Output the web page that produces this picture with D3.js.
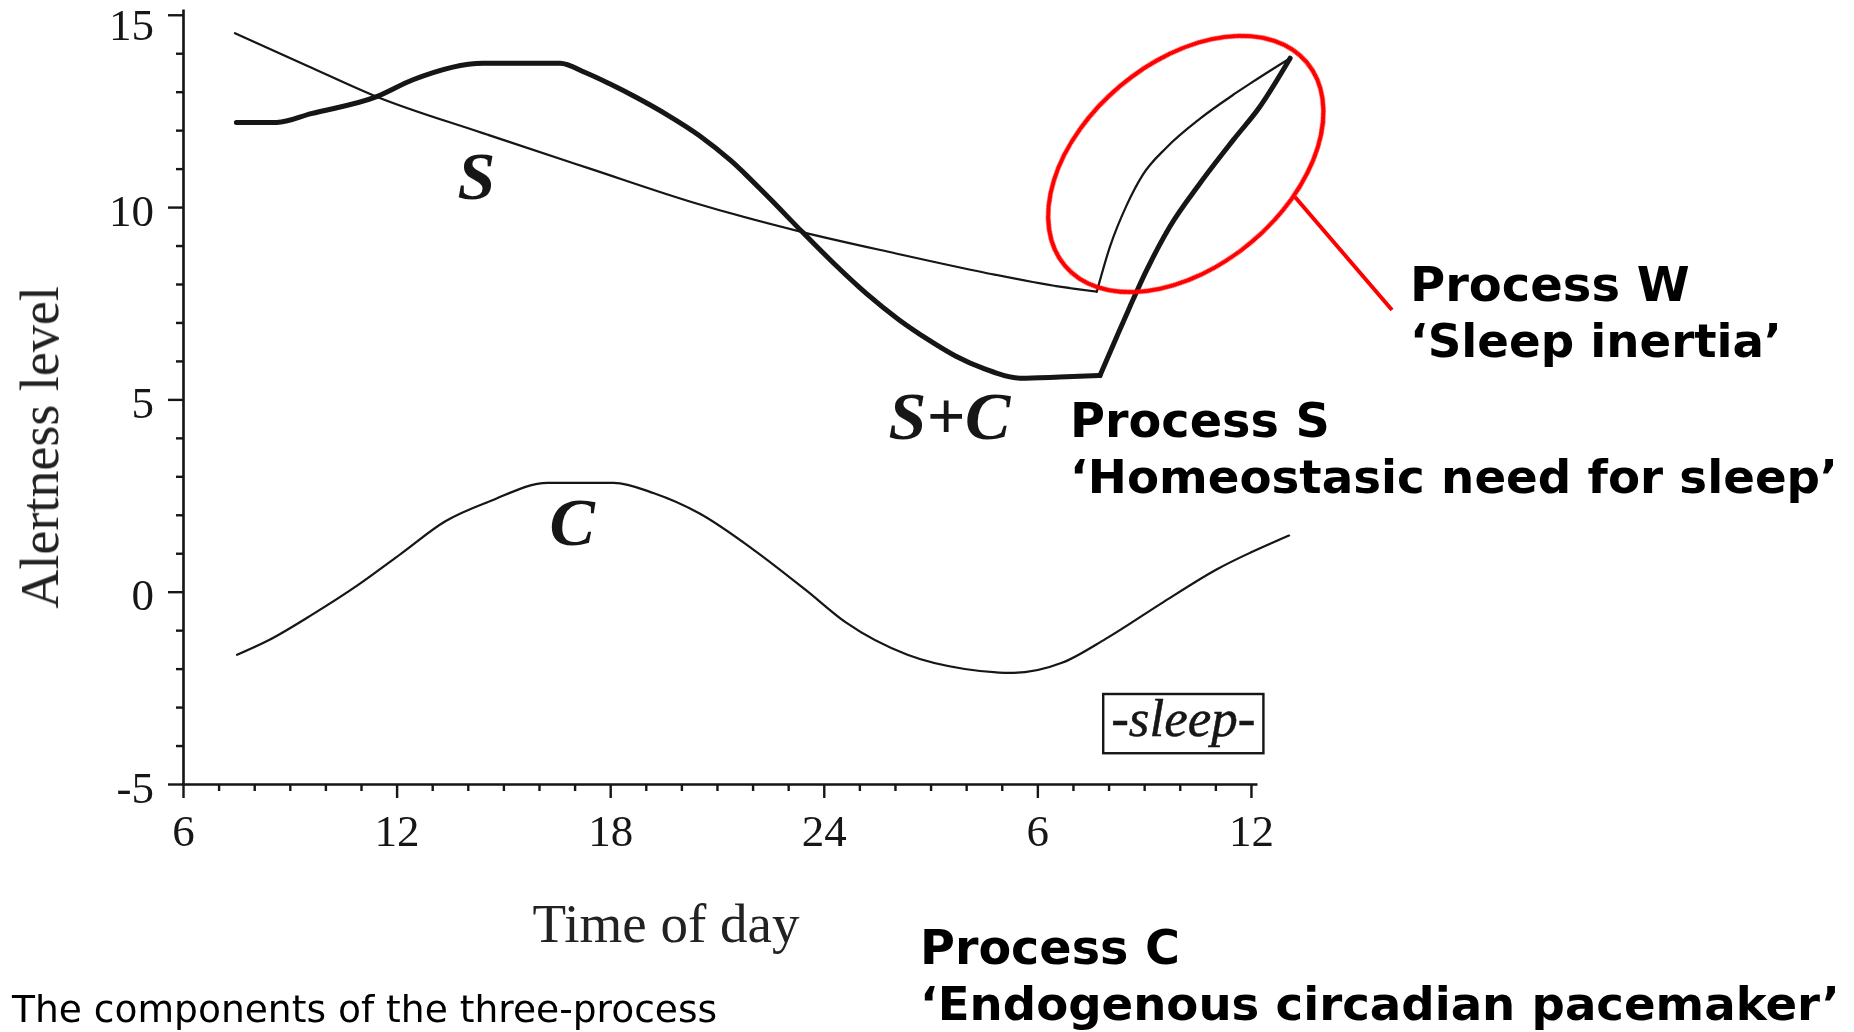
<!DOCTYPE html>
<html><head><meta charset="utf-8">
<script src="https://cdn.jsdelivr.net/npm/d3@7"></script>
<style>
html,body{margin:0;padding:0;background:#fff;overflow:hidden;}
svg{display:block;}
</style></head>
<body>
<svg id="chart" width="1854" height="1032"></svg>
<script>
// Three-process model of alertness: time of day (hours, running on past midnight) vs alertness level.

// Process S while awake: homeostatic alertness falling through the day and night
const sAwakeHours  = [7.46, 9.5, 11.44, 14.4, 17.43, 20.4, 23.4, 26.0, 28.5, 30.63, 31.67];
const sAwakeValues = [14.52, 13.67, 12.87, 11.93, 11.0, 10.1, 9.35, 8.8, 8.3, 7.93, 7.8];
// Process S recovering during sleep
const sSleepHours  = [31.67, 32.04, 32.51, 32.97, 33.63, 34.57, 35.6, 37.1];
const sSleepValues = [7.8, 8.97, 10.05, 10.85, 11.55, 12.3, 12.98, 13.87];

// S+C while awake
const scAwakeHours  = [7.5, 8.63, 9.6, 11.44, 12.46, 14.43, 16.59, 17.3, 18.0, 18.74, 19.6, 20.52, 21.4, 22.4, 23.4, 24.3, 25.2, 26.1, 26.89, 27.7, 28.5, 29.51, 30.63, 31.76];
const scAwakeValues = [12.2, 12.2, 12.43, 12.87, 13.31, 13.74, 13.74, 13.5, 13.2, 12.85, 12.4, 11.85, 11.2, 10.3, 9.35, 8.52, 7.75, 7.08, 6.58, 6.13, 5.8, 5.55, 5.58, 5.62];
// S+C during sleep (sleep inertia)
const scSleepHours  = [31.76, 32.23, 32.6, 33.07, 33.72, 34.57, 35.5, 36.25, 37.1];
const scSleepValues = [5.62, 6.63, 7.41, 8.36, 9.49, 10.62, 11.74, 12.61, 13.87];

// Process C: circadian component
const cHours  = [7.52, 8.39, 9.64, 10.88, 12.13, 13.37, 14.62, 16.24, 18.1, 19.23, 20.5, 22.03, 23.5, 24.62, 26.35, 27.96, 29.33, 30.69, 31.93, 33.54, 35.02, 37.07];
const cValues = [-1.64, -1.27, -0.59, 0.15, 0.99, 1.83, 2.35, 2.83, 2.83, 2.56, 2.04, 1.09, 0.04, -0.8, -1.64, -2.01, -2.11, -1.85, -1.22, -0.27, 0.57, 1.46];

// Axis ticks
const xTickValues = [6, 12, 18, 24, 30, 36];
const xTickLabels = ["6", "12", "18", "24", "6", "12"];
const yTickValues = [-5, 0, 5, 10, 15];
const yTickLabels = ["-5", "0", "5", "10", "15"];

// Curve labels (hour, level) and the sleep period marker
const curveLabels = [
  {text: "S",   hour: 14.24, level: 10.2},
  {text: "S+C", hour: 27.53, level: 3.97},
  {text: "C",   hour: 16.93, level: 1.22}
];
const sleepPeriod = {from: 31.85, to: 36.35, top: -2.66, bottom: -4.2, text: "-sleep-"};

const svg = d3.select("#chart");
const serif = "'Liberation Serif', 'DejaVu Serif', serif";
const sans = "'DejaVu Sans', Verdana, sans-serif";
const ink = "#141414";

const x = d3.scaleLinear().domain([6, 36.17]).range([183, 1257]);
const y = d3.scaleLinear().domain([-5, 15.15]).range([784, 9]);

// soft rendering for the plotted figure
const defs = svg.append("defs");
defs.append("filter").attr("id", "soft")
  .append("feGaussianBlur").attr("stdDeviation", 0.6);

const plot = svg.append("g").attr("filter", "url(#soft)");

// minor ticks
const yMinor = d3.range(-5, 16).filter(v => !yTickValues.includes(v));
const xMinor = d3.range(6, 37).filter(v => !xTickValues.includes(v));

const yAxis = plot.append("g").attr("transform", `translate(${x(6)},0)`)
  .call(d3.axisLeft(y).tickValues(yTickValues).tickFormat((d, i) => yTickLabels[i])
    .tickSize(15).tickSizeOuter(0).tickPadding(14));
yAxis.selectAll(".tick text").attr("dy", d => d === 15 ? "0.55em" : "0.4em");
yAxis.append("g").call(d3.axisLeft(y).tickValues(yMinor).tickFormat("").tickSize(7).tickSizeOuter(0))
  .select(".domain").remove();

const xAxis = plot.append("g").attr("transform", `translate(0,${y(-5)})`)
  .call(d3.axisBottom(x).tickValues(xTickValues).tickFormat((d, i) => xTickLabels[i])
    .tickSize(14).tickSizeOuter(0).tickPadding(16));
xAxis.append("g").call(d3.axisBottom(x).tickValues(xMinor).tickFormat("").tickSize(7).tickSizeOuter(0))
  .select(".domain").remove();

plot.selectAll(".domain").attr("stroke", ink).attr("stroke-width", 2.6);
plot.selectAll(".tick line").attr("stroke", ink).attr("stroke-width", 2.4);
plot.selectAll(".tick text").attr("fill", ink).attr("font-family", serif).attr("font-size", 45);

// axis titles
plot.append("text")
  .attr("transform", `translate(58,${(y(-5) + y(15)) / 2 + 48}) rotate(-90)`)
  .attr("text-anchor", "middle").attr("font-family", serif).attr("font-size", 54)
  .attr("fill", "#222").text("Alertness level");
plot.append("text")
  .attr("x", 666).attr("y", 942)
  .attr("text-anchor", "middle").attr("font-family", serif).attr("font-size", 55)
  .attr("fill", "#222").text("Time of day");

// curves
const line = d3.line().x(d => x(d[0])).y(d => y(d[1])).curve(d3.curveMonotoneX);
const zip = (hs, vs) => hs.map((h, i) => [h, vs[i]]);

function drawCurve(hs, vs, width) {
  plot.append("path").datum(zip(hs, vs))
    .attr("d", line).attr("fill", "none").attr("stroke", ink)
    .attr("stroke-width", width).attr("stroke-linejoin", "round").attr("stroke-linecap", "round");
}
drawCurve(cHours, cValues, 2.2);
drawCurve(sAwakeHours, sAwakeValues, 2.2);
drawCurve(sSleepHours, sSleepValues, 2.2);
drawCurve(scAwakeHours, scAwakeValues, 5);
drawCurve(scSleepHours, scSleepValues, 5);

// curve labels
plot.selectAll("text.curve-label").data(curveLabels).join("text")
  .attr("class", "curve-label")
  .attr("x", d => x(d.hour)).attr("y", d => y(d.level))
  .attr("text-anchor", "middle").attr("font-family", serif)
  .attr("font-style", "italic").attr("font-weight", "bold").attr("font-size", 68)
  .attr("fill", ink).text(d => d.text);

// sleep period marker
plot.append("rect")
  .attr("x", x(sleepPeriod.from)).attr("y", y(sleepPeriod.top))
  .attr("width", x(sleepPeriod.to) - x(sleepPeriod.from))
  .attr("height", y(sleepPeriod.bottom) - y(sleepPeriod.top))
  .attr("fill", "none").attr("stroke", ink).attr("stroke-width", 2.4);
plot.append("text")
  .attr("x", (x(sleepPeriod.from) + x(sleepPeriod.to)) / 2)
  .attr("y", (y(sleepPeriod.top) + y(sleepPeriod.bottom)) / 2 + 12)
  .attr("text-anchor", "middle").attr("font-family", serif)
  .attr("font-style", "italic").attr("font-size", 53).attr("fill", ink)
  .attr("stroke", ink).attr("stroke-width", 0.5)
  .text(sleepPeriod.text);

// red call-out around the sleep inertia segment
const inertia = {hour: 34.17, level: 11.12};
const ex = x(inertia.hour), ey = y(inertia.level);
svg.append("ellipse")
  .attr("cx", ex).attr("cy", ey).attr("rx", 158).attr("ry", 102)
  .attr("transform", `rotate(-40 ${ex} ${ey})`)
  .attr("fill", "none").attr("stroke", "#f00").attr("stroke-width", 4.5);
svg.append("line")
  .attr("x1", 1295).attr("y1", 197).attr("x2", 1392).attr("y2", 310)
  .attr("stroke", "#f00").attr("stroke-width", 4);

// process descriptions; a line wider than its room is set a little smaller
const notes = [
  {x: 1410, y: 301, lines: [["Process W", 280], ["\u2018Sleep inertia\u2019", 372]]},
  {x: 1070, y: 437, lines: [["Process S", 260], ["\u2018Homeostasic need for sleep\u2019", 768]]},
  {x: 920,  y: 964, lines: [["Process C", 260], ["\u2018Endogenous circadian pacemaker\u2019", 920]]}
];
notes.forEach(n => {
  n.lines.forEach(([t, w], i) => {
    const size = 48;
    const el = svg.append("text").attr("x", n.x).attr("y", n.y + i * 56)
      .attr("font-family", sans).attr("font-weight", "bold").attr("font-size", size)
      .attr("fill", "#000").text(t);
    const len = el.node().getComputedTextLength();
    if (len > w) el.attr("font-size", size * w / len);
  });
});

svg.append("text").attr("x", 12).attr("y", 1022)
  .attr("font-family", sans).attr("font-size", 37.6).attr("fill", "#000")
  .text("The components of the three-process");
</script>
</body></html>
